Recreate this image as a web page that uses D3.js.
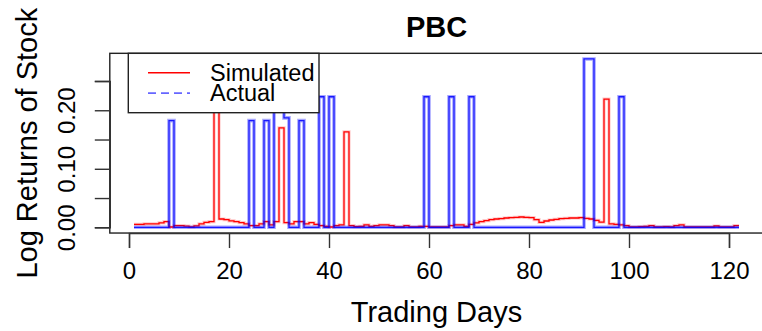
<!DOCTYPE html>
<html><head><meta charset="utf-8">
<script src="https://cdn.jsdelivr.net/npm/d3@7"></script>
<style>
body{margin:0;background:#fff}
svg{display:block}
text{font-family:"Liberation Sans",Arial,Helvetica,sans-serif;fill:#000}
</style>
</head><body>
<svg id="chart" width="762" height="331"></svg>
<script>
const chartTitle = "PBC";
const xLabel = "Trading Days";
const yLabel = "Log Returns of Stock";
const legendLabels = ["Simulated", "Actual"];
const days = d3.range(1, 123);
const simulated = [
  0.005,0.005,0.0057,0.006,0.006,0.0074,0.0096,0.0005,0.003,0.003,
  0.002,0.0005,0.0023,0.006,0.0085,0.0096,0.223,0.0142,0.013,0.011,
  0.0096,0.008,0.006,0.003,0.003,0.006,0.0096,0.004,0.0096,0.170,
  0.008,0.006,0.0096,0.0096,0.006,0.008,0.005,0.003,0.0017,0.0005,
  0.003,0.004,0.163,0.003,0.001,0.0017,0.004,0.0017,0.003,0.004,
  0.004,0.003,0.0005,0.0005,0.003,0.0005,0.0005,0.0017,0.0017,0.0005,
  0.0005,0.0005,0.0005,0.003,0.004,0.004,0.0017,0.005,0.0074,0.0096,
  0.0113,0.013,0.0142,0.0147,0.0159,0.0164,0.017,0.0176,0.017,0.0164,
  0.013,0.0085,0.0108,0.0125,0.0136,0.0147,0.0153,0.0159,0.0159,0.0164,
  0.0153,0.0142,0.012,0.009,0.219,0.006,0.005,0.004,0.003,0.0005,
  0.0005,0.001,0.0017,0.003,0.0005,0.0005,0.001,0.0005,0.003,0.004,
  0.0005,0.0005,0.0005,0.0005,0.0005,0.0005,0.0022,0.0005,0.0005,0.0005,
  0.003,0.003
];
const actual = [
  0,0,0,0,0,0,0,0.1823,0,0,
  0,0,0,0,0,0,0,0,0,0,
  0,0,0,0.1823,0,0,0.1823,0,0.2231,0.2231,
  0.187,0,0,0.1823,0,0,0,0.2231,0,0.2231,
  0,0,0,0,0,0,0,0,0,0,
  0,0,0,0,0,0,0,0,0.2231,0,
  0,0,0,0.2231,0,0,0,0.2231,0,0,
  0,0,0,0,0,0,0,0,0,0,
  0,0,0,0,0,0,0,0,0,0,
  0.2877,0.2877,0,0,0,0,0,0.2231,0,0,
  0,0,0,0,0,0,0,0,0,0,
  0,0,0,0,0,0,0,0,0,0,
  0,0
];
const xTicks = [0,20,40,60,80,100,120];
const yTicks = [0,0.05,0.10,0.15,0.20,0.25];
const yTickLabels = ["0.00","","0.10","","0.20",""];

const svg = d3.select("#chart");
const x = d3.scaleLinear().domain([0,120]).range([129,729]);
const y = d3.scaleLinear().domain([0,0.25]).range([227.3,81]);
const xMin = -3.84, xMax = 126.84, yMin = -0.0098, yMax = 0.2973;
const L = x(xMin), R = x(xMax), T = y(yMax), B = y(yMin);

svg.append("clipPath").attr("id","plotclip")
  .append("rect").attr("x",L).attr("y",T).attr("width",R-L).attr("height",B-T);

const line = d3.line().x(d=>x(d[0])).y(d=>y(d[1])).curve(d3.curveStepAfter);
const simData = days.map((d,i)=>[d,simulated[i]]);
const actData = days.map((d,i)=>[d,actual[i]]);

const g = svg.append("g").attr("clip-path","url(#plotclip)");
// simulated (red)
g.append("path").datum(simData).attr("d",line).attr("fill","none")
  .attr("stroke","#ff0000").attr("stroke-opacity",0.22).attr("stroke-width",3.2);
g.append("path").datum(simData).attr("d",line).attr("fill","none")
  .attr("stroke","#ff0000").attr("stroke-width",1.3);
// actual (blue)
g.append("path").datum(actData).attr("d",line).attr("fill","none")
  .attr("stroke","#0000ff").attr("stroke-opacity",0.35).attr("stroke-width",3.6);
g.append("path").datum(actData).attr("d",line).attr("fill","none")
  .attr("stroke","#0000ff").attr("stroke-opacity",0.85).attr("stroke-width",1.3);

// box
svg.append("rect").attr("x",L).attr("y",T).attr("width",R-L).attr("height",B-T)
  .attr("fill","none").attr("stroke","#222").attr("stroke-width",1.4);

// x axis
const xAxis = d3.axisBottom(x).tickValues(xTicks).tickSize(15).tickPadding(10).tickFormat(d3.format("d"));
const gx = svg.append("g").attr("transform",`translate(0,${B})`).call(xAxis);
gx.select(".domain").attr("stroke","#333").attr("stroke-width",1.4);
gx.selectAll(".tick line").attr("stroke","#333").attr("stroke-width",1.4);
gx.selectAll(".tick text").attr("font-size",24).attr("font-family","Liberation Sans, Arial, sans-serif")
  .attr("fill","#000").attr("dy",null).attr("y",null)
  .attr("transform","translate(0,45.5)");

// y axis
const yAxis = d3.axisLeft(y).tickValues(yTicks).tickSize(15).tickFormat((d,i)=>yTickLabels[i]);
const gy = svg.append("g").attr("transform",`translate(${L},0)`).call(yAxis);
gy.select(".domain").attr("stroke","#333").attr("stroke-width",1.4);
gy.selectAll(".tick line").attr("stroke","#333").attr("stroke-width",1.4);
gy.selectAll(".tick text").attr("font-size",24).attr("font-family","Liberation Sans, Arial, sans-serif")
  .attr("fill","#000").attr("x",null).attr("dy",null)
  .attr("text-anchor","middle")
  .attr("transform",`translate(${75-L},0) rotate(-90)`);

// title & axis labels
svg.append("text").attr("x",(L+R)/2).attr("y",36.7).attr("text-anchor","middle")
  .attr("font-size",29).attr("font-weight","bold").text(chartTitle);
svg.append("text").attr("x",(L+R)/2).attr("y",322).attr("text-anchor","middle")
  .attr("font-size",29).text(xLabel);
svg.append("text").attr("transform",`translate(37,${(T+B)/2}) rotate(-90)`)
  .attr("text-anchor","middle").attr("font-size",29).text(yLabel);

// legend
const lg = svg.append("g");
lg.append("rect").attr("x",128.3).attr("y",T).attr("width",190.7).attr("height",112.7-T)
  .attr("fill","#fff").attr("stroke","#222").attr("stroke-width",1.4);
const legColors = ["#ff0000","#0000ff"];
legendLabels.forEach((lab,i)=>{
  const cy = 72.7 + i*20.5;
  const ln = lg.append("line").attr("x1",148).attr("x2",190).attr("y1",cy).attr("y2",cy)
    .attr("stroke",legColors[i]).attr("stroke-width",1.4);
  if(i===1){ ln.attr("stroke-dasharray","8,5").attr("stroke-opacity",0.6).attr("stroke-width",1.8); }
  lg.append("text").attr("x",210).attr("y",cy+8.2).attr("font-size",23.5).text(lab);
});
</script>
</body></html>
